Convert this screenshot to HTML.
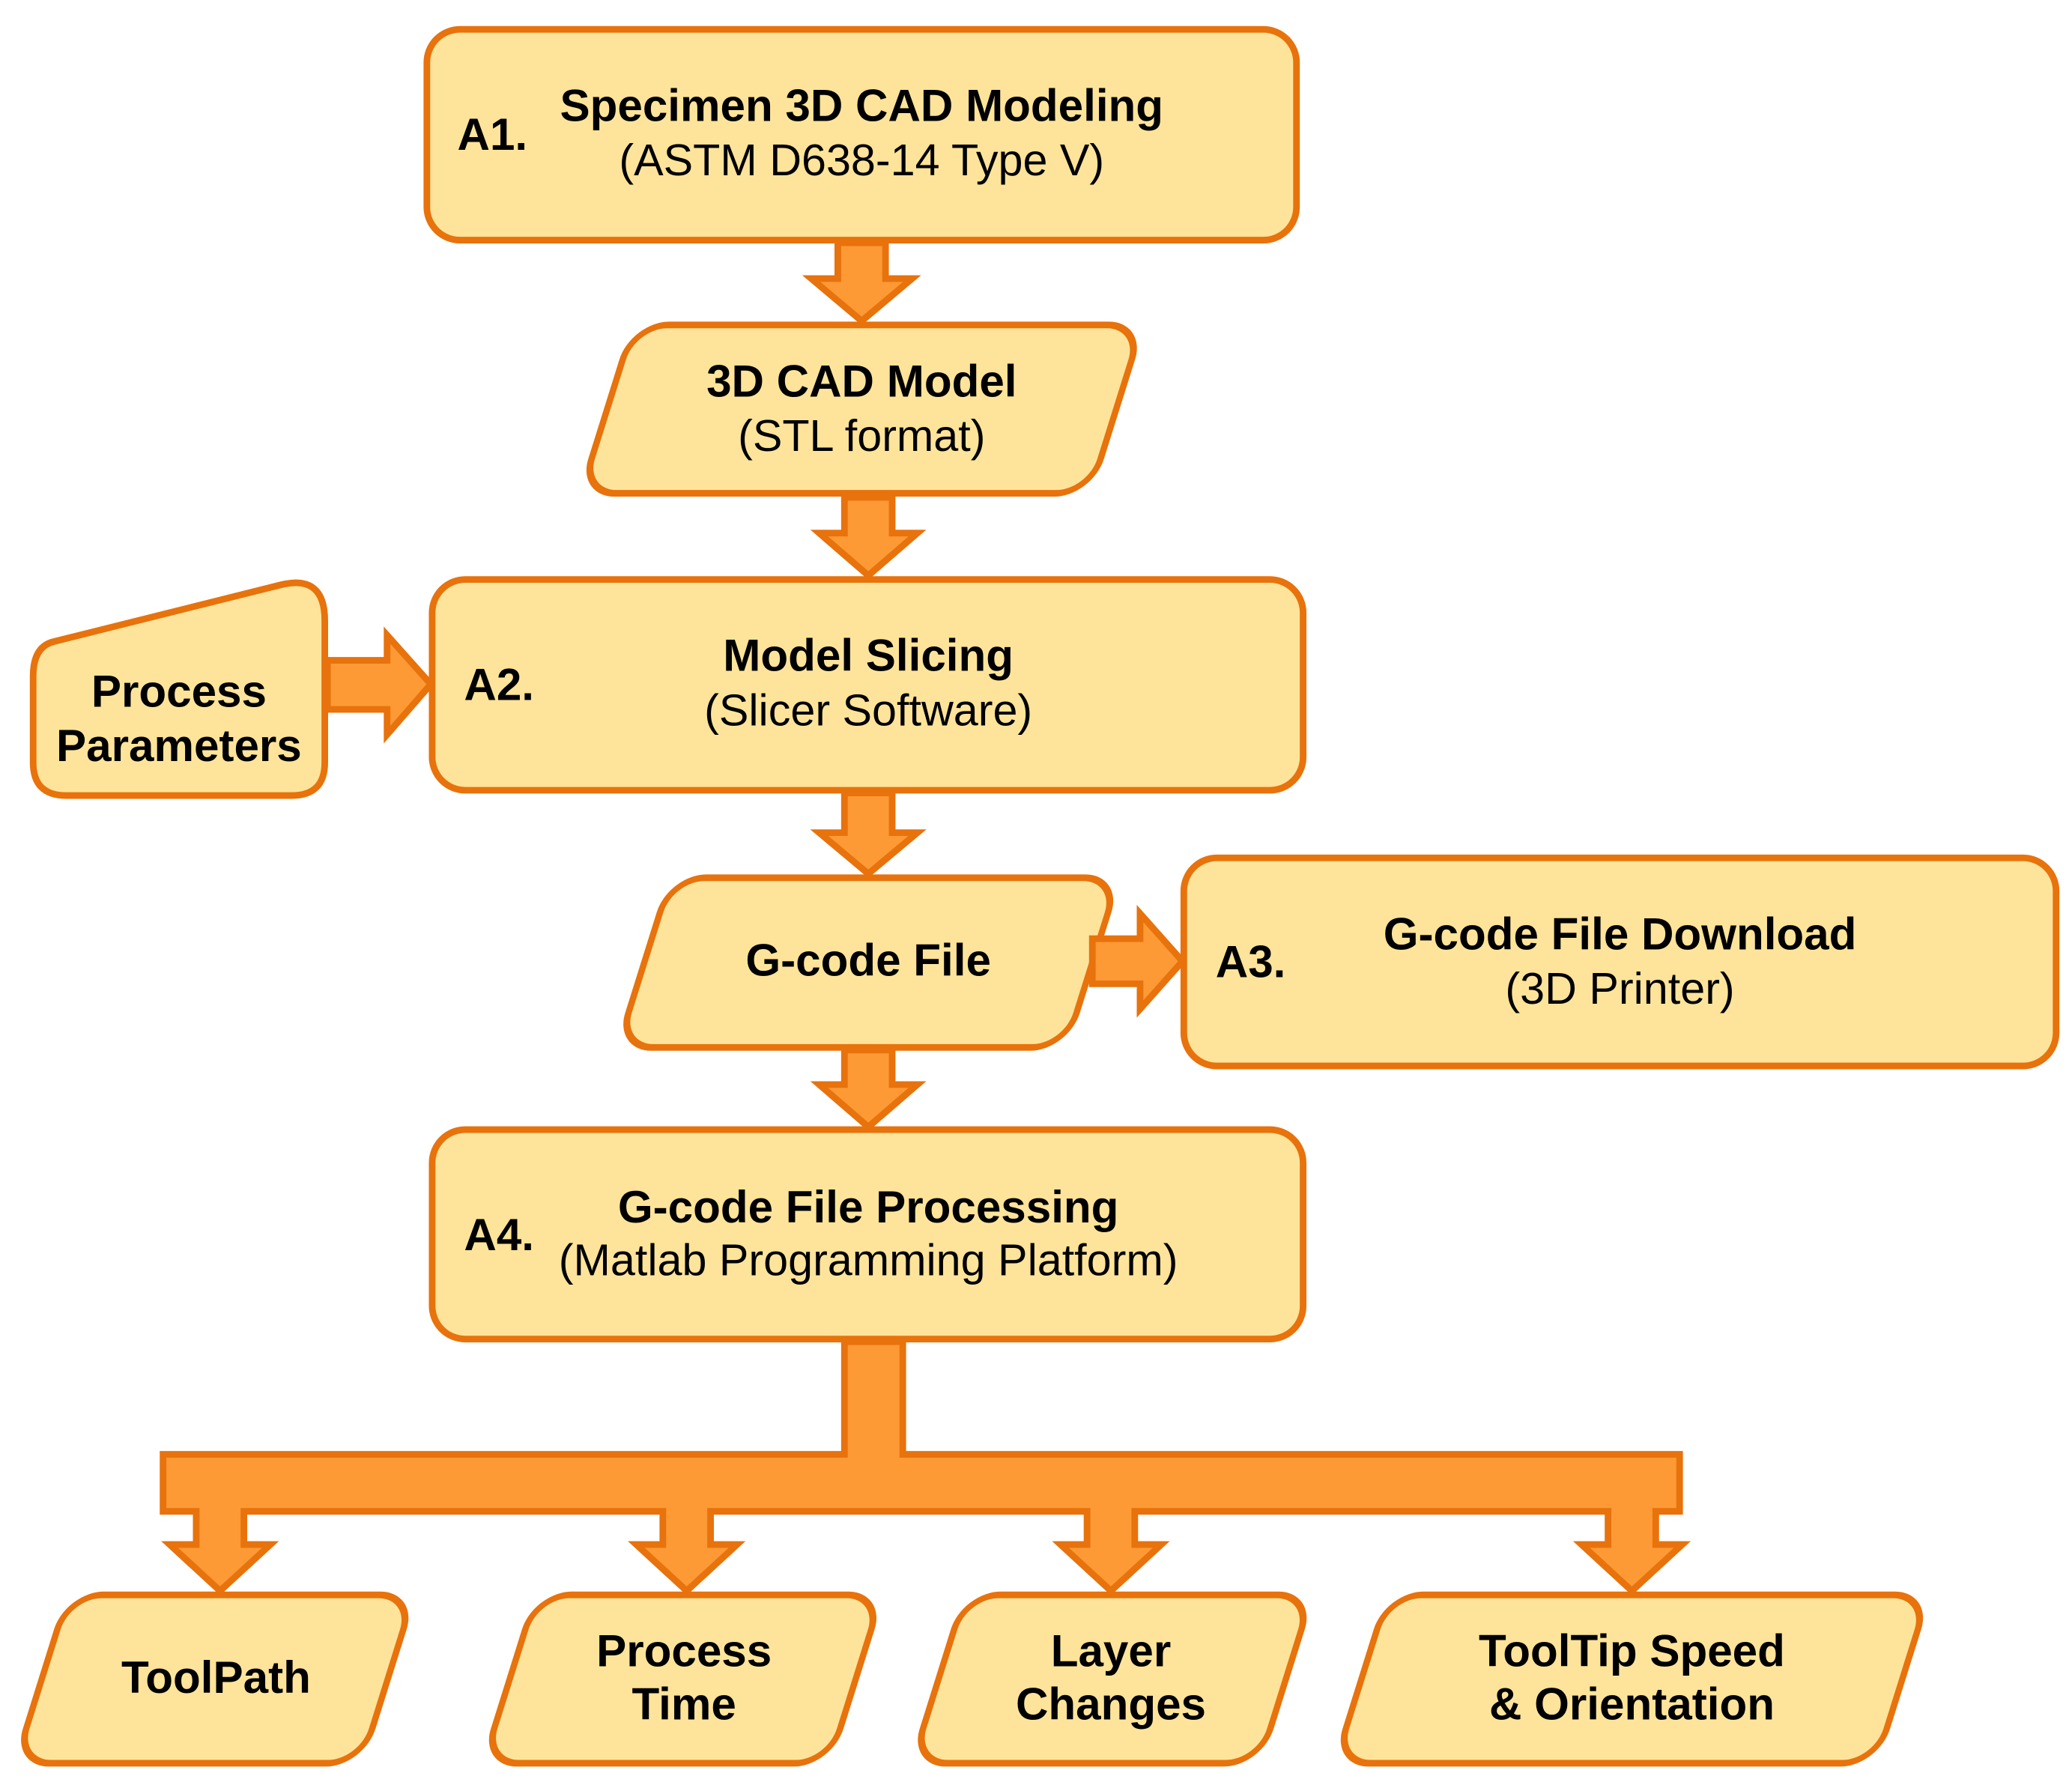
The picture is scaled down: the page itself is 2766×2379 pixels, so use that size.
<!DOCTYPE html>
<html><head><meta charset="utf-8"><style>
html,body{margin:0;padding:0;background:#fff;}
svg{display:block;}
text{font-family:"Liberation Sans",Arial,sans-serif;fill:#000;}
.b{font-weight:bold;font-size:34px;}
.r{font-size:33.5px;}
</style></head><body>
<svg width="2766" height="2379" viewBox="0 0 1563 1344" xmlns="http://www.w3.org/2000/svg">
<g fill="#FDE49A" stroke="#E8720C" stroke-width="5">
  <rect x="322" y="22" width="656" height="159" rx="25"/>
  <rect x="326" y="437" width="657" height="159" rx="25"/>
  <rect x="893" y="647" width="658" height="157" rx="25"/>
  <rect x="326" y="852" width="657" height="158" rx="25"/>
  <path d="M40,484 L212,441 Q245,433 245,468 L245,575 Q245,600 220,600 L50,600 Q25,600 25,575 L25,510 Q25,488 40,484 Z"/>
  <g transform="translate(650,308.5) skewX(-17.4)"><rect x="-192" y="-63.5" width="384" height="127" rx="26"/></g>
  <g transform="translate(655,726) skewX(-17.4)"><rect x="-169" y="-64" width="338" height="128" rx="26"/></g>
  <g transform="translate(162,1266.5) skewX(-17.4)"><rect x="-130.5" y="-63.5" width="261" height="127" rx="26"/></g>
  <g transform="translate(515,1266.5) skewX(-17.4)"><rect x="-130.5" y="-63.5" width="261" height="127" rx="26"/></g>
  <g transform="translate(839,1266.5) skewX(-17.4)"><rect x="-131" y="-63.5" width="262" height="127" rx="26"/></g>
  <g transform="translate(1231,1266.5) skewX(-17.4)"><rect x="-204" y="-63.5" width="408" height="127" rx="26"/></g>
</g>
<g fill="#FD9A35" stroke="#E8720C" stroke-width="5" stroke-linejoin="miter">
  <path d="M632,183 L668,183 L668,210 L688,210 L650,242 L612,210 L632,210 Z"/>
  <path d="M637,375 L673,375 L673,402 L692,402 L655,434 L618,402 L637,402 Z"/>
  <path d="M637,598 L673,598 L673,628 L692,628 L655,659 L618,628 L637,628 Z"/>
  <path d="M637,792 L673,792 L673,818 L692,818 L655,850 L618,818 L637,818 Z"/>
  <path d="M247,498 L292,498 L292,479 L325,516 L292,554 L292,535 L247,535 Z"/>
  <path d="M824,708 L860,708 L860,689 L892,725 L860,761 L860,742 L824,742 Z"/>
  <path d="M637,1012 L681,1012 L681,1097 L1267,1097 L1267,1140 L1249,1140 L1249,1165 L1269,1165 L1231,1200 L1193,1165 L1213,1165 L1213,1140 L856,1140 L856,1165 L876,1165 L838,1200 L800,1165 L820,1165 L820,1140 L536,1140 L536,1165 L556,1165 L518,1200 L480,1165 L500,1165 L500,1140 L184,1140 L184,1165 L204,1165 L166,1200 L128,1165 L148,1165 L148,1140 L123,1140 L123,1097 L637,1097 Z"/>
</g>
<g text-anchor="middle">
  <text class="b" x="650" y="91">Specimen 3D CAD Modeling</text>
  <text class="r" x="650" y="132">(ASTM D638-14 Type V)</text>
  <text class="b" x="650" y="299">3D CAD Model</text>
  <text class="r" x="650" y="340">(STL format)</text>
  <text class="b" x="655" y="506">Model Slicing</text>
  <text class="r" x="655" y="547">(Slicer Software)</text>
  <text class="b" x="135" y="533">Process</text>
  <text class="b" x="135" y="574">Parameters</text>
  <text class="b" x="655" y="736">G-code File</text>
  <text class="b" x="1222" y="716">G-code File Download</text>
  <text class="r" x="1222" y="757">(3D Printer)</text>
  <text class="b" x="655" y="922">G-code File Processing</text>
  <text class="r" x="655" y="962">(Matlab Programming Platform)</text>
  <text class="b" x="163" y="1277">ToolPath</text>
  <text class="b" x="516" y="1257">Process</text>
  <text class="b" x="516" y="1297">Time</text>
  <text class="b" x="838" y="1257">Layer</text>
  <text class="b" x="838" y="1297">Changes</text>
  <text class="b" x="1231" y="1257">ToolTip Speed</text>
  <text class="b" x="1231" y="1297">&amp; Orientation</text>
</g>
<g>
  <text class="b" x="345" y="113">A1.</text>
  <text class="b" x="350" y="528">A2.</text>
  <text class="b" x="917" y="737">A3.</text>
  <text class="b" x="350" y="943">A4.</text>
</g>
</svg>
</body></html>
